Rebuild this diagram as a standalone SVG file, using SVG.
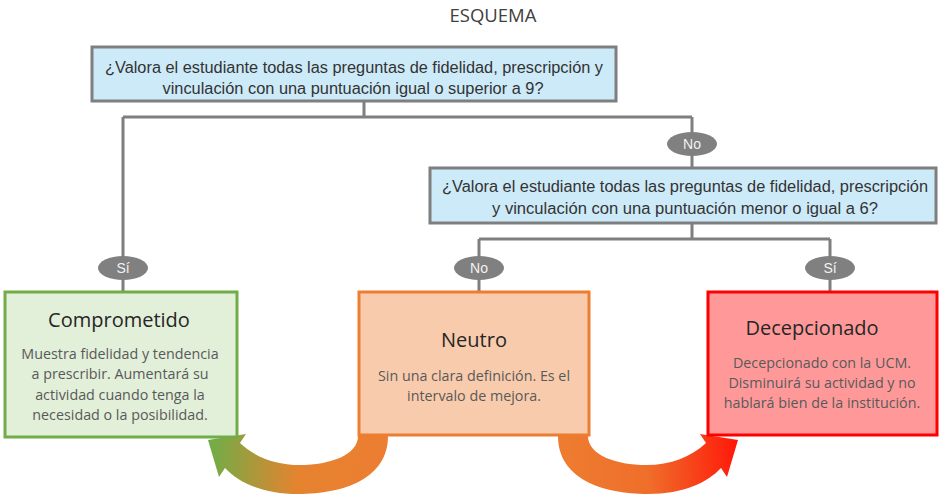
<svg xmlns="http://www.w3.org/2000/svg" width="940" height="500" viewBox="0 0 940 500">
<style>
.bg{fill:#ffffff}
.conn{fill:none;stroke:#7f7f7f;stroke-width:3}
.q{fill:#cdeaf9;stroke:#7f7f7f;stroke-width:3}
.qt{font-family:"Liberation Sans",Arial,sans-serif;font-size:16px;fill:#333333;text-anchor:middle}
.lbl{fill:#808080}
.lt{font-family:"Liberation Sans",Arial,sans-serif;font-size:14px;fill:#f2f2f2;text-anchor:middle}
.title{font-family:"Open Sans","Liberation Sans",sans-serif;font-size:20px;fill:#262626;text-anchor:middle}
.body{font-family:"Open Sans","Liberation Sans",sans-serif;font-size:14.3px;fill:#595959;text-anchor:middle}
.green{fill:#e2efd9;stroke:#70ad47;stroke-width:3}
.orange{fill:#f8cbad;stroke:#ed7d31;stroke-width:3}
.red{fill:#ff9999;stroke:#ff0000;stroke-width:3}
.head{font-family:"Open Sans","Liberation Sans",sans-serif;font-size:18.5px;fill:#404040;text-anchor:middle}
</style>
<defs>
<linearGradient id="g1" gradientUnits="userSpaceOnUse" x1="388" y1="460" x2="210" y2="450">
<stop offset="0" stop-color="#ed7d31"/>
<stop offset="0.5" stop-color="#e5832f"/>
<stop offset="1" stop-color="#70ad47"/>
</linearGradient>
<linearGradient id="g2" gradientUnits="userSpaceOnUse" x1="558" y1="460" x2="736" y2="450">
<stop offset="0" stop-color="#ed7d31"/>
<stop offset="0.5" stop-color="#ef6e2a"/>
<stop offset="1" stop-color="#ff1a0a"/>
</linearGradient>
</defs>
<rect class="bg" x="0" y="0" width="940" height="500"/>
<text class="head" x="493" y="22">ESQUEMA</text>

<g id="connectors">
<path class="conn" d="M364 102 V117 M123 117 H692 M123 117 V291 M692 117 V167 M692 224 V239 M479 239 H830 M479 239 V291 M830 239 V291"/>
<path fill="url(#g1)" d="M358 436 L388 436 C388 478 345 494 298 494 C262 494 238 482 225 468 L219 477 L208 440 L246 434 L240 443 C255 457 275 465 300 465 C330 465 358 455 358 436 Z"/>
<path fill="url(#g2)" d="M588 436 L558 436 C558 478 601 494 648 494 C684 494 708 482 721 468 L727 477 L738 440 L700 434 L706 443 C691 457 671 465 646 465 C616 465 588 455 588 436 Z"/>
</g>

<g id="q1">
<rect class="q" x="92" y="47" width="524" height="54"/>
<text class="qt" x="354" y="73" textLength="498" lengthAdjust="spacingAndGlyphs">¿Valora el estudiante todas las preguntas de fidelidad, prescripción y</text>
<text class="qt" x="353" y="94" textLength="381" lengthAdjust="spacingAndGlyphs">vinculación con una puntuación igual o superior a 9?</text>
</g>

<g id="no1">
<ellipse class="lbl" cx="692" cy="144" rx="25" ry="12"/>
<text class="lt" x="692" y="149">No</text>
</g>

<g id="q2">
<rect class="q" x="430" y="168" width="506" height="55"/>
<text class="qt" x="685" y="192" textLength="486" lengthAdjust="spacingAndGlyphs">¿Valora el estudiante todas las preguntas de fidelidad, prescripción</text>
<text class="qt" x="685" y="214" textLength="386" lengthAdjust="spacingAndGlyphs">y vinculación con una puntuación menor o igual a 6?</text>
</g>

<g id="si1">
<ellipse class="lbl" cx="123" cy="268" rx="25" ry="12"/>
<text class="lt" x="123" y="273">Sí</text>
</g>
<g id="no2">
<ellipse class="lbl" cx="479" cy="268" rx="25" ry="12"/>
<text class="lt" x="479" y="273">No</text>
</g>
<g id="si2">
<ellipse class="lbl" cx="830" cy="268" rx="25" ry="12"/>
<text class="lt" x="830" y="273">Sí</text>
</g>

<g id="comprometido">
<rect class="green" x="5" y="292" width="232" height="145"/>
<text class="title" x="119" y="327">Comprometido</text>
<text class="body" x="120" y="359">Muestra fidelidad y tendencia</text>
<text class="body" x="120" y="379">a  prescribir. Aumentará su</text>
<text class="body" x="120" y="400">actividad  cuando tenga la</text>
<text class="body" x="120" y="420">necesidad o la  posibilidad.</text>
</g>

<g id="neutro">
<rect class="orange" x="359" y="292" width="230" height="143"/>
<text class="title" x="474" y="347">Neutro</text>
<text class="body" x="474" y="381">Sin una clara definición. Es el</text>
<text class="body" x="474" y="401">intervalo de mejora.</text>
</g>

<g id="decepcionado">
<rect class="red" x="708" y="292" width="229" height="143"/>
<text class="title" x="812" y="335">Decepcionado</text>
<text class="body" x="822" y="368">Decepcionado con la UCM.</text>
<text class="body" x="822" y="388">Disminuirá su actividad y no</text>
<text class="body" x="822" y="408">hablará bien de la institución.</text>
</g>
</svg>
